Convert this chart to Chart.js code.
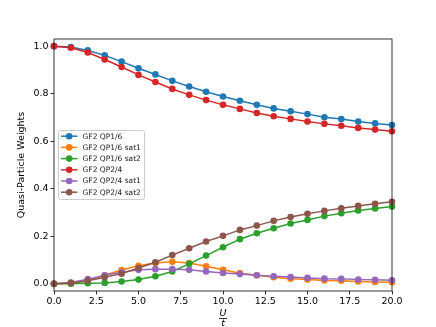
<!DOCTYPE html>
<html>
<head>
<meta charset="utf-8">
<script src="https://cdn.jsdelivr.net/npm/chart.js@4"></script>
<style>
  html, body { margin: 0; padding: 0; background: #fff; }
  canvas { display: block; }
</style>
</head>
<body>
<canvas id="chart" width="436" height="327"></canvas>
<script>
const uOverT = [0, 1, 2, 3, 4, 5, 6, 7, 8, 9, 10, 11, 12, 13, 14, 15, 16, 17, 18, 19, 20];

const qp16 = [1.0, 0.996, 0.982, 0.961, 0.935, 0.907, 0.881, 0.854, 0.830, 0.808, 0.788, 0.770, 0.753, 0.738, 0.726, 0.714, 0.701, 0.693, 0.683, 0.675, 0.668];
const qp16Sat1 = [0.0, 0.003, 0.013, 0.036, 0.058, 0.076, 0.088, 0.093, 0.088, 0.074, 0.059, 0.045, 0.036, 0.028, 0.022, 0.018, 0.014, 0.013, 0.010, 0.008, 0.007];
const qp16Sat2 = [0.0, 0.001, 0.003, 0.004, 0.010, 0.018, 0.032, 0.052, 0.084, 0.119, 0.154, 0.188, 0.213, 0.234, 0.254, 0.269, 0.285, 0.297, 0.309, 0.317, 0.325];
const qp24 = [1.0, 0.993, 0.973, 0.944, 0.912, 0.879, 0.849, 0.820, 0.795, 0.773, 0.753, 0.736, 0.719, 0.705, 0.694, 0.683, 0.673, 0.665, 0.656, 0.649, 0.642];
const qp24Sat1 = [0.0, 0.006, 0.020, 0.036, 0.049, 0.059, 0.062, 0.062, 0.059, 0.052, 0.046, 0.041, 0.036, 0.032, 0.029, 0.025, 0.022, 0.021, 0.018, 0.017, 0.015];
const qp24Sat2 = [0.0, 0.004, 0.013, 0.028, 0.043, 0.067, 0.091, 0.121, 0.150, 0.178, 0.202, 0.227, 0.245, 0.265, 0.281, 0.295, 0.307, 0.318, 0.328, 0.337, 0.345];

const seriesNames = ['GF2 QP1/6', 'GF2 QP1/6 sat1', 'GF2 QP1/6 sat2', 'GF2 QP2/4', 'GF2 QP2/4 sat1', 'GF2 QP2/4 sat2'];
const seriesValues = [qp16, qp16Sat1, qp16Sat2, qp24, qp24Sat1, qp24Sat2];
const colors = ['#1f77b4', '#ff7f0e', '#2ca02c', '#d62728', '#9467bd', '#8c564b'];

const xTicks = [0, 2.5, 5, 7.5, 10, 12.5, 15, 17.5, 20];
const yTicks = [0, 0.2, 0.4, 0.6, 0.8, 1.0];

const FONT = "'DejaVu Sans', sans-serif";

const datasets = seriesValues.map((vals, i) => ({
    label: seriesNames[i],
    data: vals.map((v, k) => ({ x: uOverT[k], y: v })),
    borderColor: colors[i],
    backgroundColor: colors[i],
    borderWidth: 1.5,
    pointRadius: 3.3,
    pointBorderWidth: 0,
    pointBackgroundColor: colors[i],
    order: seriesValues.length - i,
    clip: false
}));

// frame, axis labels and legend, drawn the matplotlib way
const decorations = {
    id: 'decorations',
    afterDraw(chart) {
        const ctx = chart.ctx;
        const a = chart.chartArea;
        ctx.save();
        ctx.strokeStyle = '#000';
        ctx.lineWidth = 0.8;
        ctx.strokeRect(a.left, a.top, a.right - a.left, a.bottom - a.top);

        // y label
        ctx.fillStyle = '#000';
        ctx.font = '9.5px ' + FONT;
        ctx.textAlign = 'center';
        ctx.textBaseline = 'middle';
        ctx.translate(22, (a.top + a.bottom) / 2);
        ctx.rotate(-Math.PI / 2);
        ctx.fillText('Quasi-Particle Weights', 0, 0);
        ctx.setTransform(1, 0, 0, 1, 0, 0);

        // x label: U over t
        const cx = (a.left + a.right) / 2;
        ctx.font = 'italic 9.5px ' + FONT;
        ctx.textBaseline = 'alphabetic';
        ctx.fillText('U', cx, 316);
        ctx.fillText('t', cx, 326);
        ctx.lineWidth = 0.8;
        ctx.beginPath();
        ctx.moveTo(cx - 4, 318.5);
        ctx.lineTo(cx + 4, 318.5);
        ctx.stroke();

        // legend
        const lx = 58.5, ly = 130.5, lw = 86, lh = 69;
        ctx.fillStyle = 'rgba(255,255,255,0.8)';
        ctx.strokeStyle = '#cccccc';
        ctx.lineWidth = 1;
        ctx.beginPath();
        ctx.roundRect(lx, ly, lw, lh, 2);
        ctx.fill();
        ctx.stroke();
        ctx.font = '7.5px ' + FONT;
        ctx.textAlign = 'left';
        ctx.textBaseline = 'middle';
        seriesNames.forEach((name, i) => {
            const y = 136.2 + i * 11.2;
            ctx.strokeStyle = colors[i];
            ctx.lineWidth = 1.5;
            ctx.beginPath();
            ctx.moveTo(61, y);
            ctx.lineTo(77.5, y);
            ctx.stroke();
            ctx.fillStyle = colors[i];
            ctx.beginPath();
            ctx.arc(69.2, y, 3.3, 0, Math.PI * 2);
            ctx.fill();
            ctx.fillStyle = '#222';
            ctx.fillText(name, 82.5, y + 0.5);
        });
        ctx.restore();
    }
};

new Chart(document.getElementById('chart'), {
    type: 'line',
    data: { datasets: datasets },
    options: {
        responsive: false,
        animation: false,
        layout: { padding: { top: 39, right: 44, left: 0, bottom: 0 } },
        plugins: { legend: { display: false }, tooltip: { enabled: false } },
        scales: {
            x: {
                type: 'linear',
                min: 0,
                max: 20,
                afterBuildTicks: axis => { axis.ticks = xTicks.map(v => ({ value: v })); },
                afterFit: axis => { axis.height = 36; },
                ticks: {
                    color: '#000',
                    font: { family: FONT, size: 9.5 },
                    padding: 1,
                    maxRotation: 0,
                    autoSkip: false,
                    callback: v => v.toFixed(1)
                },
                grid: { drawOnChartArea: false, tickLength: 3.5, color: '#000', tickWidth: 0.8 },
                border: { display: false }
            },
            y: {
                type: 'linear',
                min: -0.03,
                max: 1.03,
                afterBuildTicks: axis => { axis.ticks = yTicks.map(v => ({ value: v })); },
                afterFit: axis => { axis.width = 54; },
                ticks: {
                    color: '#000',
                    font: { family: FONT, size: 9.5 },
                    padding: 2,
                    autoSkip: false,
                    callback: v => v.toFixed(1)
                },
                grid: { drawOnChartArea: false, tickLength: 3.5, color: '#000', tickWidth: 0.8 },
                border: { display: false }
            }
        }
    },
    plugins: [decorations]
});
</script>
</body>
</html>
